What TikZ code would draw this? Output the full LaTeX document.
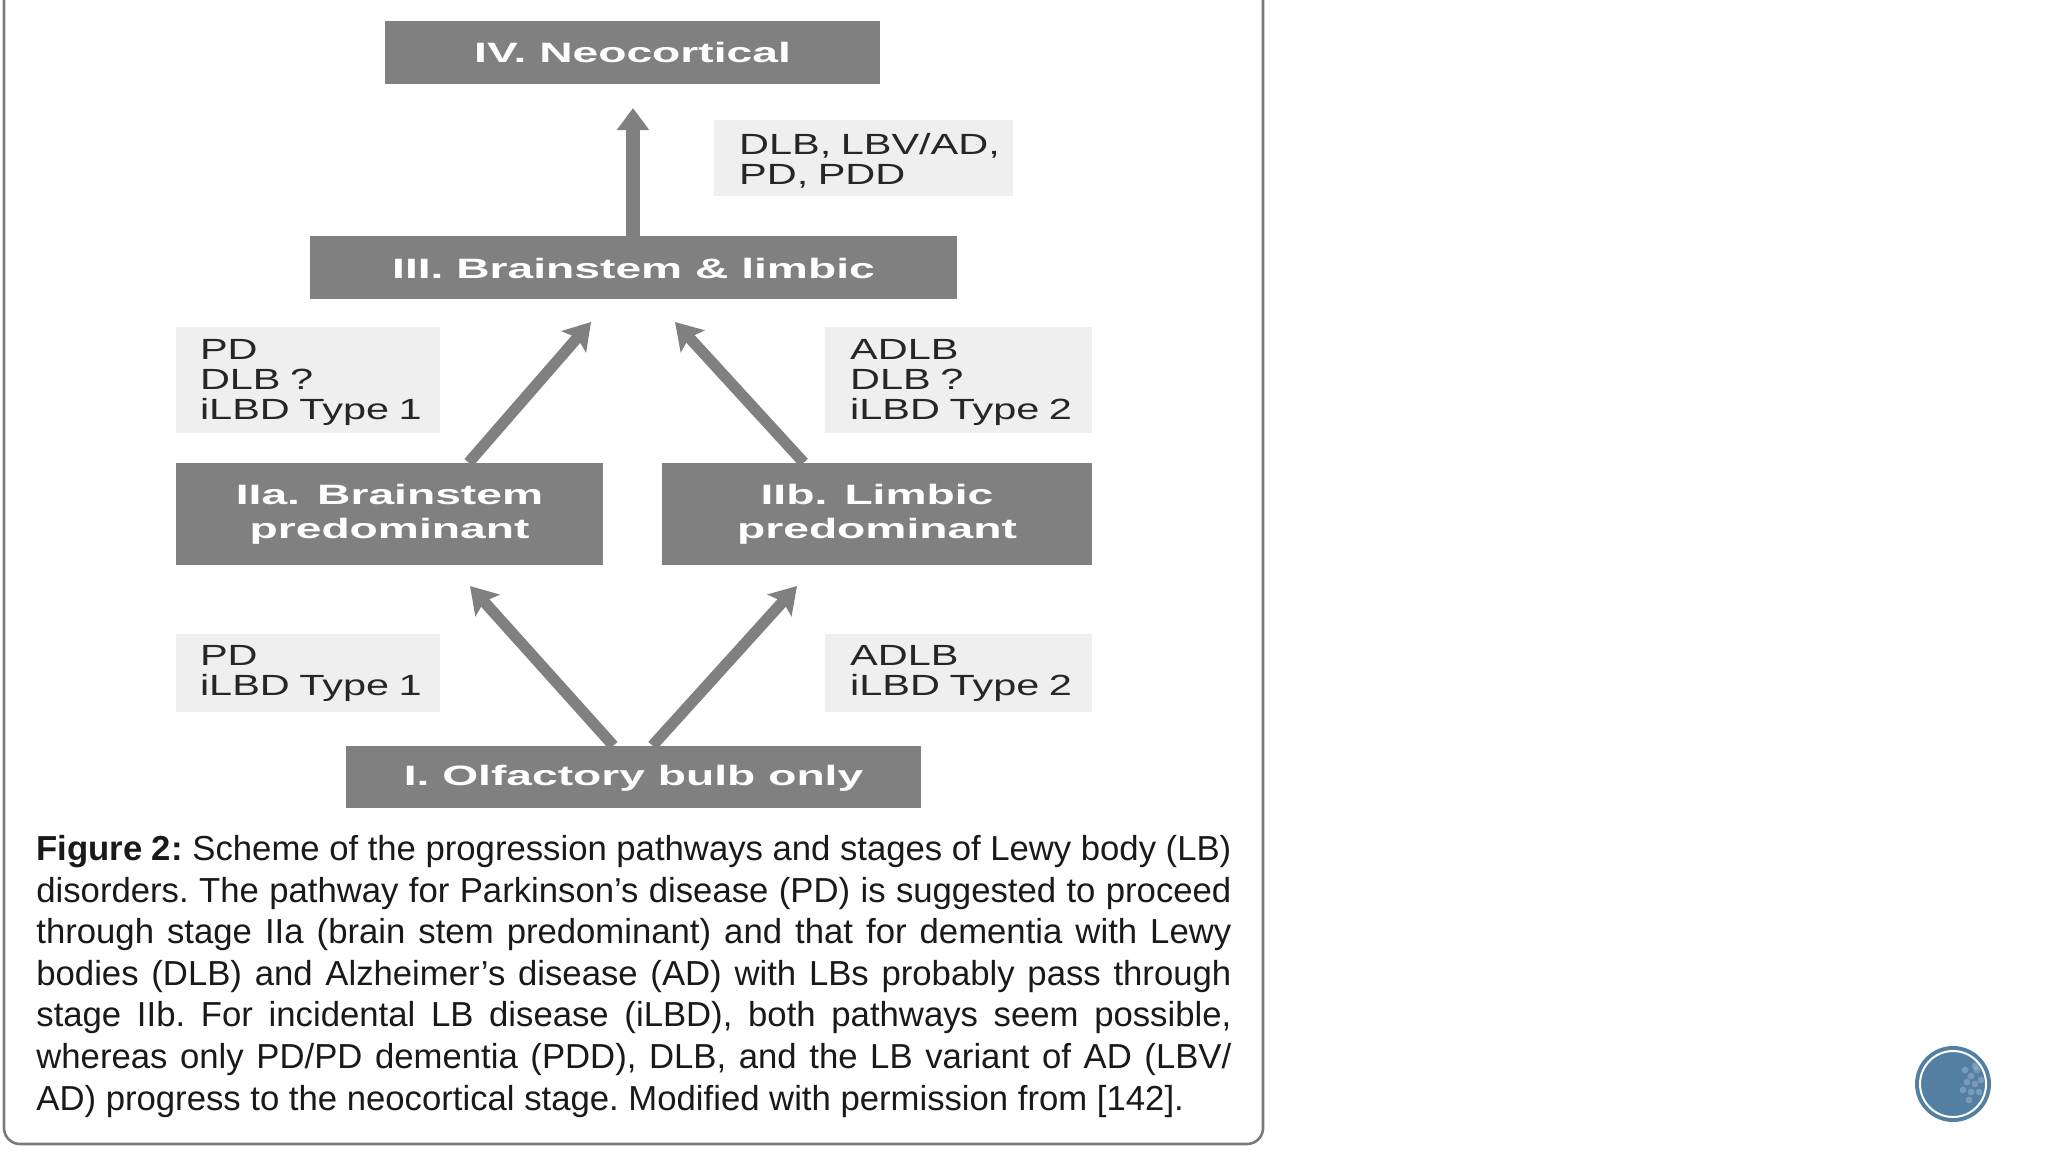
\documentclass[tikz,border=0pt]{standalone}
\usepackage{fontspec}
\setmainfont{Liberation Sans}
\usetikzlibrary{arrows.meta,calc}
\definecolor{stagegray}{HTML}{808080}
\definecolor{notegray}{HTML}{EFEFEF}
\definecolor{panelline}{HTML}{7A7A7A}
\definecolor{badge}{HTML}{537FA3}
\newcommand{\stagetext}[2][-0.3pt]{\raisebox{#1}[\height][\depth]{\scalebox{1.65}[1]{\fontsize{14}{17}\selectfont\bfseries\begin{tabular}{@{}c@{}}#2\end{tabular}}}}
\newcommand{\notetext}[2][-1.6pt]{\raisebox{#1}[\height][\depth]{\scalebox{1.42}[1]{\fontsize{14.6}{15}\selectfont\begin{tabular}{@{}l@{}}#2\end{tabular}}}}
\tikzset{
  stagebox/.style={fill=stagegray,text=white,inner sep=0pt,align=center},
  notebox/.style={fill=notegray,text=black!85,inner ysep=0pt,inner xsep=12pt,align=left},
  flow/.style={draw=stagegray,line width=5.6pt,-{Stealth[length=13pt,width=16pt,inset=2.5pt]}},
  flowup/.style={draw=stagegray,line width=6.6pt,-{Triangle[length=11pt,width=15.5pt]}},
}
\begin{document}
\begin{tikzpicture}[x=0.5pt,y=-0.5pt]
\useasboundingbox (0,0) rectangle (2048,1152);
\fill[white] (0,0) rectangle (2048,1152);
% panel
\draw[panelline,line width=1.3pt,rounded corners=8pt] (4,0) |- (1263,1144) -- (1263,0);
% stages
\node[stagebox,minimum width=247.5pt,minimum height=31.5pt] (iv) at (632.5,52.5) {\stagetext[-1.4pt]{IV. Neocortical}};
\node[stagebox,minimum width=323.5pt,minimum height=31.5pt] (iii) at (633.5,267.5) {\stagetext[-1.9pt]{III. Brainstem \& limbic}};
\node[stagebox,minimum width=213.5pt,minimum height=51pt] (iia) at (389.5,514) {\stagetext{IIa. Brainstem\\predominant}};
\node[stagebox,minimum width=215pt,minimum height=51pt] (iib) at (877,514) {\stagetext{IIb. Limbic\\predominant}};
\node[stagebox,minimum width=287.5pt,minimum height=31pt] (i) at (633.5,777) {\stagetext[-1pt]{I. Olfactory bulb only}};
% notes
\node[notebox,inner xsep=12.6pt,text width=124.3pt,minimum height=38pt] (n4) at (863.5,158) {\notetext[-2.6pt]{DLB, LBV/AD,\\PD, PDD}};
\node[notebox,text width=108pt,minimum height=53pt] (n3a) at (308,380) {\notetext{PD\\DLB ?\\iLBD Type 1}};
\node[notebox,inner xsep=12.6pt,text width=108.3pt,minimum height=53pt] (n3b) at (958.5,380) {\notetext{ADLB\\DLB ?\\iLBD Type 2}};
\node[notebox,text width=108pt,minimum height=39pt] (n2a) at (308,673) {\notetext[-0.9pt]{PD\\iLBD Type 1}};
\node[notebox,inner xsep=12.6pt,text width=108.3pt,minimum height=39pt] (n2b) at (958.5,673) {\notetext[-0.9pt]{ADLB\\iLBD Type 2}};
% arrow targets
\coordinate (t4) at (633,108);
\coordinate (t3a) at (591,322);
\coordinate (t3b) at (675,322);
\coordinate (t2a) at (470,586);
\coordinate (t2b) at (797,586);
% arrows
\draw[flowup] (iii.north -| t4) -- (t4);
\draw[flow] ($(iia.north west)!0.685!(iia.north east)$) -- (t3a);
\draw[flow] ($(iib.north west)!0.33!(iib.north east)$) -- (t3b);
\draw[flow] ($(i.north west)!0.465!(i.north east)$) -- (t2a);
\draw[flow] ($(i.north west)!0.533!(i.north east)$) -- (t2b);
% caption
\node[anchor=north west,inner sep=0pt,text width=597.5pt,align=justify,text=black!90] (cap) at (36,835) {\fontsize{17.35}{20.8}\selectfont\frenchspacing\tolerance=9999\emergencystretch=20pt
\textbf{Figure 2:} Scheme of the progression pathways and stages of Lewy body (LB)\linebreak
disorders. The pathway for Parkinson’s disease (PD) is suggested to proceed\linebreak
through stage IIa (brain stem predominant) and that for dementia with Lewy\linebreak
bodies (DLB) and Alzheimer’s disease (AD) with LBs probably pass through\linebreak
stage IIb. For incidental LB disease (iLBD), both pathways seem possible,\linebreak
whereas only PD/PD dementia (PDD), DLB, and the LB variant of AD (LBV/\linebreak
AD) progress to the neocortical stage. Modified with permission from [142].\par};
% badge
\fill[badge] (1953,1084) circle[radius=19pt] coordinate (bc);
\draw[white,line width=1pt] (bc) circle[radius=16.5pt];
\foreach \dx/\dy in {12/-14,18/-8,24/-14,14/-2,22/0,28/-4,10/6,18/8,26/8,16/16,22/-18}
  \fill[white,opacity=.22] ($(bc)+(\dx,\dy)$) circle[radius=1.7pt];
\end{tikzpicture}
\end{document}
